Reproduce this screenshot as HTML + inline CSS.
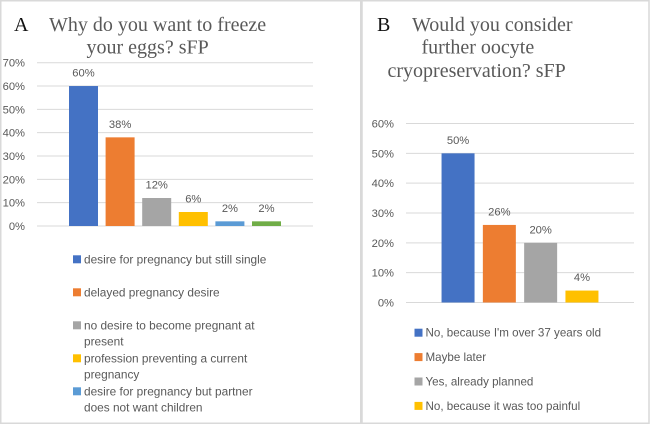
<!DOCTYPE html>
<html lang="en">
<head>
<meta charset="utf-8">
<title>Oocyte cryopreservation survey charts</title>
<style>
html,body{margin:0;padding:0;background:#fff;}
#figure{display:block;width:650px;height:425px;filter:blur(0.3px);}
.tick,.val,.leg{font-family:"Liberation Sans",sans-serif;fill:#595959;font-size:11.2px;}
.ttl{font-family:"Liberation Serif",serif;fill:#595959;font-size:20px;}
.letter{font-family:"Liberation Serif",serif;fill:#111;font-size:20px;}
</style>
</head>
<body>
<svg id="figure" xmlns="http://www.w3.org/2000/svg" width="650" height="425" viewBox="0 0 650 425">
  <rect x="0.75" y="0.75" width="360" height="422.5" fill="#fff" stroke="#d9d9d9" stroke-width="1.5"/>
  <rect x="362" y="0.75" width="287" height="422.5" fill="#fff" stroke="#d9d9d9" stroke-width="1.5"/>
  <text class="letter" x="14" y="31">A</text>
  <text class="ttl" x="49" y="31">Why do you want to freeze</text>
  <text class="ttl" x="86.5" y="53.5">your eggs? sFP</text>
  <text class="letter" x="377" y="31">B</text>
  <text class="ttl" x="412" y="31">Would you consider</text>
  <text class="ttl" x="421.5" y="53.5">further oocyte</text>
  <text class="ttl" x="387.5" y="77">cryopreservation? sFP</text>
  <g id="chart-a"></g>
  <g id="chart-b"></g>
</svg>
<script>
var colors = ['#4472c4','#ed7d31','#a5a5a5','#ffc000','#5b9bd5','#70ad47'];

var valuesA = [60, 38, 12, 6, 2, 2];
var ticksA = [0, 10, 20, 30, 40, 50, 60, 70];
var legendA = [
  ['desire for pregnancy but still single'],
  ['delayed pregnancy desire'],
  ['no desire to become pregnant at', 'present'],
  ['profession preventing a current', 'pregnancy'],
  ['desire for pregnancy but partner', 'does not want children']
];

var valuesB = [50, 26, 20, 4];
var ticksB = [0, 10, 20, 30, 40, 50, 60];
var legendB = [
  ["No, because I'm over 37 years old"],
  ['Maybe later'],
  ['Yes, already planned'],
  ['No, because it was too painful']
];

var NS = 'http://www.w3.org/2000/svg';

function make(parent, tag, attrs, text) {
  var el = document.createElementNS(NS, tag);
  for (var k in attrs) el.setAttribute(k, attrs[k]);
  if (text !== undefined) el.textContent = text;
  parent.appendChild(el);
  return el;
}

function drawChart(root, prefix, values, ticks, legend, cfg) {
  var maxTick = ticks[ticks.length - 1];
  function yScale(v) { return cfg.y0 - (v / maxTick) * (cfg.y0 - cfg.yTop); }
  var center = (cfg.x0 + cfg.x1) / 2;
  function barX(i) { return center - (values.length * cfg.pitch) / 2 + i * cfg.pitch + (cfg.pitch - cfg.barW) / 2; }

  ticks.forEach(function (t) {
    var line = make(root, 'line', {x1: cfg.x0, x2: cfg.x1, y1: yScale(t), y2: yScale(t), stroke: '#d9d9d9', 'stroke-width': 1});
    
    
    var label = make(root, 'text', {'class': 'tick', x: cfg.tickX, y: yScale(t) + 4, 'text-anchor': 'end'}, t + '%');
    
    
  });

  values.forEach(function (v, i) {
    var bar = make(root, 'rect', {x: barX(i), y: yScale(v), width: cfg.barW, height: cfg.y0 - yScale(v), fill: colors[i]});
    
    
    var lab = make(root, 'text', {'class': 'val', x: barX(i) + cfg.barW / 2, y: yScale(v) - 9.5, 'text-anchor': 'middle'}, v + '%');
    
    
  });

  var y = cfg.legendY;
  legend.forEach(function (lines, i) {
    var sw = make(root, 'rect', {x: cfg.legendX, y: y - 4, width: 8, height: 8, fill: colors[i]});
    
    
    lines.forEach(function (ln, j) {
      var txt = make(root, 'text', {'class': 'leg', x: cfg.legendX + 11, y: y + 4 + j * cfg.lineH, style: 'font-size:' + cfg.legendFont + 'px'}, ln);
      
      
    });
    y += cfg.rowH * Math.max(lines.length, 1) + (lines.length === 1 ? cfg.rowExtra : 0);
  });
}

drawChart(document.getElementById('chart-a'), 'chart-a', valuesA, ticksA, legendA, {
  x0: 37, x1: 313, y0: 226, yTop: 62.7, pitch: 36.6, barW: 29, tickX: 25,
  legendX: 73, legendY: 259.3, lineH: 16, rowH: 16.5, rowExtra: 16.5, legendFont: 11.85
});

drawChart(document.getElementById('chart-b'), 'chart-b', valuesB, ticksB, legendB, {
  x0: 406, x1: 634, y0: 302.5, yTop: 123.5, pitch: 41.3, barW: 33, tickX: 394,
  legendX: 414.5, legendY: 332.7, lineH: 16, rowH: 24.4, rowExtra: 0, legendFont: 11.6
});
</script>
</body>
</html>
